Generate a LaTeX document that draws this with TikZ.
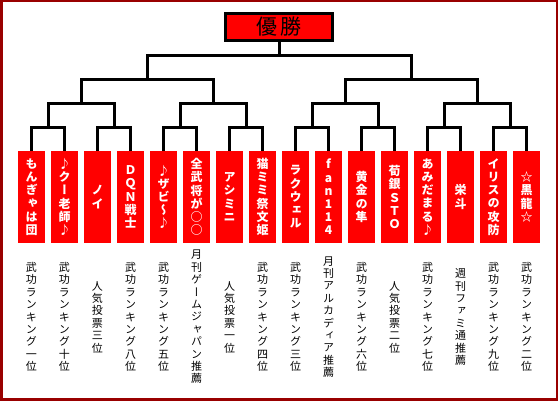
\documentclass[tikz,border=0pt]{standalone}
\usepackage{fontspec}
\newfontfamily\jp[RawFeature=+vert]{Noto Sans CJK JP}
\definecolor{framered}{HTML}{990000}
\definecolor{boxred}{HTML}{FF0000}

\begin{document}
\begin{tikzpicture}[x=1pt, y=-1pt,
    entry/.style={fill=boxred, minimum width=27pt, minimum height=92pt, inner sep=0pt,
        text=white, align=center, font=\jp\bfseries\fontsize{12}{13.2}\selectfont},
    note/.style={inner sep=0pt, align=center, text=black,
        font=\jp\fontsize{11}{12.4}\selectfont},
    bracket/.style={line width=3pt}]

    \useasboundingbox (0,0) rectangle (558,401);
    \draw[framered, line width=2.5pt] (1.25,1.25) rectangle (556.75,399.75);

    % champion
    \node[draw, line width=3pt, fill=boxred, minimum width=107pt, minimum height=27pt,
        inner sep=0pt, font=\jp\fontsize{21}{21}\selectfont] (win) at (279,27) {優\kern3pt 勝};

    % entries
    \node[entry] (e1) at (31.5,197) {も\\ん\\ぎ\\ゃ\\は\\団};
    \node[entry] (e2) at (64.5,197) {♪\\ク\\ー\\老\\師\\♪};
    \node[entry] (e3) at (97.5,197) {ノ\\イ};
    \node[entry] (e4) at (130.5,197) {Ｄ\\Ｑ\\Ｎ\\戦\\士};
    \node[entry] (e5) at (163.5,197) {♪\\ザ\\ビ\\〜\\♪};
    \node[entry] (e6) at (196.5,197) {全\\武\\将\\が\\○\\○};
    \node[entry] (e7) at (229.5,197) {ア\\シ\\ミ\\ニ};
    \node[entry] (e8) at (262.5,197) {猫\\ミ\\ミ\\祭\\文\\姫};
    \node[entry] (e9) at (295.5,197) {ラ\\ク\\ウ\\ェ\\ル};
    \node[entry] (e10) at (328.5,197) {f\\a\\n\\1\\1\\4};
    \node[entry] (e11) at (361.5,197) {黄\\金\\の\\隼};
    \node[entry] (e12) at (394.5,197) {荀\\銀\\Ｓ\\Ｔ\\Ｏ};
    \node[entry] (e13) at (427.5,197) {あ\\み\\だ\\ま\\る\\♪};
    \node[entry] (e14) at (460.5,197) {栄\\斗};
    \node[entry] (e15) at (493.5,197) {イ\\リ\\ス\\の\\攻\\防};
    \node[entry] (e16) at (526.5,197) {☆\\黒\\龍\\☆};

    % notes
    \node[note] (n1) at (31.5,317) {武\\功\\ラ\\ン\\キ\\ン\\グ\\一\\位};
    \node[note] (n2) at (64.5,317) {武\\功\\ラ\\ン\\キ\\ン\\グ\\十\\位};
    \node[note] (n3) at (97.5,317) {人\\気\\投\\票\\三\\位};
    \node[note] (n4) at (130.5,317) {武\\功\\ラ\\ン\\キ\\ン\\グ\\八\\位};
    \node[note] (n5) at (163.5,317) {武\\功\\ラ\\ン\\キ\\ン\\グ\\五\\位};
    \node[note] (n6) at (196.5,317) {月\\刊\\ゲ\\ー\\ム\\ジ\\ャ\\パ\\ン\\推\\薦};
    \node[note] (n7) at (229.5,317) {人\\気\\投\\票\\一\\位};
    \node[note] (n8) at (262.5,317) {武\\功\\ラ\\ン\\キ\\ン\\グ\\四\\位};
    \node[note] (n9) at (295.5,317) {武\\功\\ラ\\ン\\キ\\ン\\グ\\三\\位};
    \node[note] (n10) at (328.5,317) {月\\刊\\ア\\ル\\カ\\デ\\ィ\\ア\\推\\薦};
    \node[note] (n11) at (361.5,317) {武\\功\\ラ\\ン\\キ\\ン\\グ\\六\\位};
    \node[note] (n12) at (394.5,317) {人\\気\\投\\票\\二\\位};
    \node[note] (n13) at (427.5,317) {武\\功\\ラ\\ン\\キ\\ン\\グ\\七\\位};
    \node[note] (n14) at (460.5,317) {週\\刊\\フ\\ァ\\ミ\\通\\推\\薦};
    \node[note] (n15) at (493.5,317) {武\\功\\ラ\\ン\\キ\\ン\\グ\\九\\位};
    \node[note] (n16) at (526.5,317) {武\\功\\ラ\\ン\\キ\\ン\\グ\\二\\位};

    % joints
    \coordinate (a1) at (48,128);
    \coordinate (a2) at (114,128);
    \coordinate (a3) at (180,128);
    \coordinate (a4) at (246,128);
    \coordinate (a5) at (312,128);
    \coordinate (a6) at (378,128);
    \coordinate (a7) at (444,128);
    \coordinate (a8) at (510,128);
    \coordinate (b1) at (81,104);
    \coordinate (b2) at (213,104);
    \coordinate (b3) at (345,104);
    \coordinate (b4) at (477,104);
    \coordinate (c1) at (147,80);
    \coordinate (c2) at (411,80);
    \coordinate (d) at (279,56);

    % bracket
    \draw[bracket] (e1.north) |- (a1) -| (e2.north);
    \draw[bracket] (e3.north) |- (a2) -| (e4.north);
    \draw[bracket] (e5.north) |- (a3) -| (e6.north);
    \draw[bracket] (e7.north) |- (a4) -| (e8.north);
    \draw[bracket] (e9.north) |- (a5) -| (e10.north);
    \draw[bracket] (e11.north) |- (a6) -| (e12.north);
    \draw[bracket] (e13.north) |- (a7) -| (e14.north);
    \draw[bracket] (e15.north) |- (a8) -| (e16.north);
    \draw[bracket] (a1) |- (b1) -| (a2);
    \draw[bracket] (a3) |- (b2) -| (a4);
    \draw[bracket] (a5) |- (b3) -| (a6);
    \draw[bracket] (a7) |- (b4) -| (a8);
    \draw[bracket] (b1) |- (c1) -| (b2);
    \draw[bracket] (b3) |- (c2) -| (b4);
    \draw[bracket] (c1) |- (d) -| (c2);
    \draw[bracket] (d) -- (win.south);

\end{tikzpicture}
\end{document}
